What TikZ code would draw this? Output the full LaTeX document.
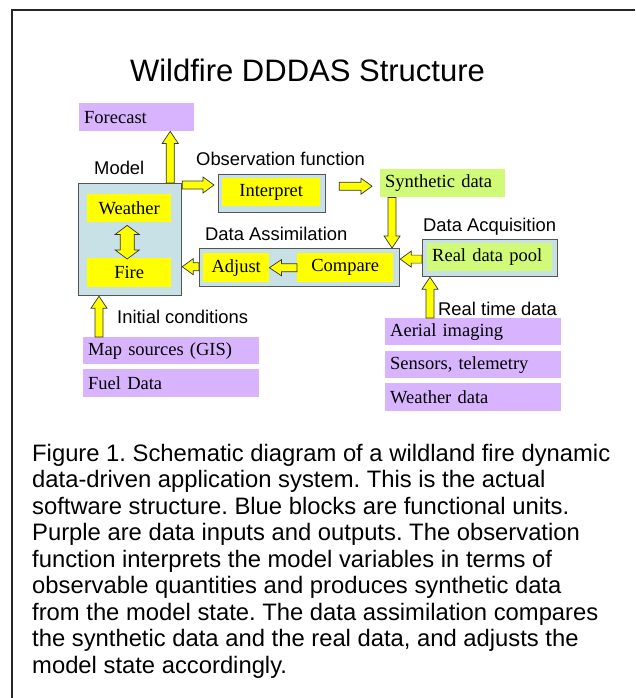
\documentclass[tikz,border=0pt]{standalone}
\usepackage{fontspec}
\setmainfont{Liberation Serif}
\setsansfont{Liberation Sans}
\usetikzlibrary{calc}
\definecolor{purp}{RGB}{216,180,254}
\definecolor{blu}{RGB}{200,225,230}
\definecolor{grn}{RGB}{208,250,120}
\definecolor{yel}{RGB}{255,255,0}
\definecolor{bord}{RGB}{85,85,85}

\newcommand\blockarrow[5]{%
  \filldraw[arrowsty] let \p1=(#1), \p2=(#2),
    \n1={atan2(\y2-\y1,\x2-\x1)}, \n2={veclen(\x2-\x1,\y2-\y1)} in
    ([shift={(\p1)},rotate=\n1]0pt,-#3pt) --
    ([shift={(\p1)},rotate=\n1]{\n2-#5pt},-#3pt) --
    ([shift={(\p1)},rotate=\n1]{\n2-#5pt},-#4pt) --
    ([shift={(\p1)},rotate=\n1]\n2,0pt) --
    ([shift={(\p1)},rotate=\n1]{\n2-#5pt},#4pt) --
    ([shift={(\p1)},rotate=\n1]{\n2-#5pt},#3pt) --
    ([shift={(\p1)},rotate=\n1]0pt,#3pt) -- cycle;}

\newcommand\dblarrow[5]{%
  \filldraw[arrowsty] let \p1=(#1), \p2=(#2),
    \n1={atan2(\y2-\y1,\x2-\x1)}, \n2={veclen(\x2-\x1,\y2-\y1)} in
    ([shift={(\p1)},rotate=\n1]0pt,0pt) --
    ([shift={(\p1)},rotate=\n1]#5pt,#4pt) --
    ([shift={(\p1)},rotate=\n1]#5pt,#3pt) --
    ([shift={(\p1)},rotate=\n1]{\n2-#5pt},#3pt) --
    ([shift={(\p1)},rotate=\n1]{\n2-#5pt},#4pt) --
    ([shift={(\p1)},rotate=\n1]\n2,0pt) --
    ([shift={(\p1)},rotate=\n1]{\n2-#5pt},-#4pt) --
    ([shift={(\p1)},rotate=\n1]{\n2-#5pt},-#3pt) --
    ([shift={(\p1)},rotate=\n1]#5pt,-#3pt) --
    ([shift={(\p1)},rotate=\n1]#5pt,-#4pt) -- cycle;}

\begin{document}
\frenchspacing
\begin{tikzpicture}[x=1pt,y=-1pt,
  arrowsty/.style={fill=yel,draw=black!80,line width=0.7pt,line join=miter},
  boxtext/.style={anchor=north west,inner xsep=5pt,inner ysep=0pt,
    font=\fontsize{18.5}{20}\selectfont},
  pbox/.style={boxtext,fill=purp,align=left},
  gbox/.style={boxtext,fill=grn,align=left},
  ybox/.style={boxtext,fill=yel,align=center},
  bbox/.style={anchor=north west,inner sep=0pt,fill=blu,draw=bord,line width=1.2pt},
  lbl/.style={anchor=base west,inner sep=0pt,font=\sffamily\fontsize{18.4}{20}\selectfont}
]
\useasboundingbox (0,0) rectangle (635,698);
\fill[white] (0,0) rectangle (635,698);
% frame
\draw[line width=1.8pt,black!85] (12,698) -- (12,10) -- (635,10);

% title
\node[anchor=base,inner sep=0pt,font=\sffamily\fontsize{31}{36}\selectfont] (title) at (307.5,82) {Wildfire DDDAS Structure};

% outer blue boxes
\node[bbox,minimum width=103pt,minimum height=112pt] (model) at (78,183) {};
\node[bbox,minimum width=107pt,minimum height=38pt] (interp) at (218,174) {};
\node[bbox,minimum width=200pt,minimum height=38pt] (assim) at (199,248) {};
\node[bbox,minimum width=135pt,minimum height=37pt] (pool) at (422,239) {};

% inner boxes
\node[ybox,text width=74pt,minimum height=28pt] (weather) at (87,194) {Weather};
\node[ybox,text width=74pt,minimum height=29pt] (fire) at (87,258) {Fire};
\node[ybox,text width=88pt,minimum height=28pt] (interpret) at (222,178) {Interpret};
\node[ybox,text width=56pt,minimum height=29pt] (adjust) at (203,253) {Adjust};
\node[ybox,text width=86pt,minimum height=29pt] (compare) at (297,253) {Compare};
\node[gbox,text width=115pt,minimum height=28pt] (realpool) at (427,243) {Real data pool};
\node[gbox,text width=115pt,minimum height=28pt] (synth) at (380,169) {Synthetic data};

% purple boxes
\node[pbox,text width=105pt,minimum height=28pt] (fore) at (79,103) {Forecast};
\node[pbox,text width=166pt,minimum height=27pt] (map) at (83,337) {Map sources (GIS)};
\node[pbox,text width=166pt,minimum height=28pt] (fuel) at (83,369) {Fuel Data};
\node[pbox,text width=166pt,minimum height=27pt] (aerial) at (385,318) {Aerial imaging};
\node[pbox,text width=166pt,minimum height=27pt] (sensors) at (385,351) {Sensors, telemetry};
\node[pbox,text width=166pt,minimum height=28pt] (wdata) at (385,383) {Weather data};

% labels
\node[lbl] (lmodel) at (94,174) {Model};
\node[lbl] (lobs) at (196,165) {Observation function};
\node[lbl] (lassim) at (205,240) {Data Assimilation};
\node[lbl] (lacq) at (423,231) {Data Acquisition};
\node[lbl] (linit) at (117,323) {Initial conditions};
\node[lbl] (lreal) at (438,315) {Real time data};

% arrow end points
\coordinate (a1s) at ($(model.north east)+(-12,0)$);
\coordinate (a1e) at (a1s |- fore.south);
\coordinate (a2s) at ($(model.north east)+(0,2)$);
\coordinate (a2x) at (a2s -| interp.west);
\coordinate (a2e) at ($(a2x)+(-4,0)$);
\coordinate (a3m) at (interp.east |- synth.west);
\coordinate (a3s) at ($(a3m)+(13,3)$);
\coordinate (a3e) at ($(synth.west)+(-8,3)$);
\coordinate (a4s) at ($(synth.south west)+(12,0)$);
\coordinate (a4e) at (a4s |- assim.north);
\coordinate (a5s) at ($(pool.west)+(0,1)$);
\coordinate (a5e) at (a5s -| assim.east);
\coordinate (a7s) at ($(assim.west |- adjust.west)+(0,-1)$);
\coordinate (a7e) at (a7s -| model.east);
\coordinate (a8s) at ($(weather.south)+(-2,3)$);
\coordinate (a8x) at ($(fire.north)+(-2,1)$);
\coordinate (a9e) at ($(model.south west)+(21,0)$);
\coordinate (a9s) at (a9e |- map.north);
\coordinate (a10e) at ($(pool.south west)+(8,0)$);
\coordinate (a10s) at (a10e |- aerial.north);

% arrows
\blockarrow{a1s}{a1e}{4}{8}{12}
\blockarrow{a2s}{a2e}{4}{8}{11}
\blockarrow{a3s}{a3e}{4}{8}{11}
\blockarrow{a4s}{a4e}{4}{8}{12}
\blockarrow{a5s}{a5e}{4}{8}{11}
\blockarrow{compare.west}{adjust.east}{4}{8}{12}
\blockarrow{a7s}{a7e}{4}{8}{11}
\dblarrow{a8s}{a8x}{7}{12}{9}
\blockarrow{a9s}{a9e}{4}{8}{12}
\blockarrow{a10s}{a10e}{4}{8}{12}

% caption
\node[anchor=north west,inner sep=0pt,align=left,font=\sffamily\fontsize{23.8}{26.5}\selectfont] (caption) at (32,444)
{Figure 1. Schematic diagram of a wildland fire dynamic\\
data-driven application system. This is the actual\\
software structure. Blue blocks are functional units.\\
Purple are data inputs and outputs. The observation\\
function interprets the model variables in terms of\\
observable quantities and produces synthetic data\\
from the model state. The data assimilation compares\\
the synthetic data and the real data, and adjusts the\\
model state accordingly.};
\end{tikzpicture}
\end{document}
